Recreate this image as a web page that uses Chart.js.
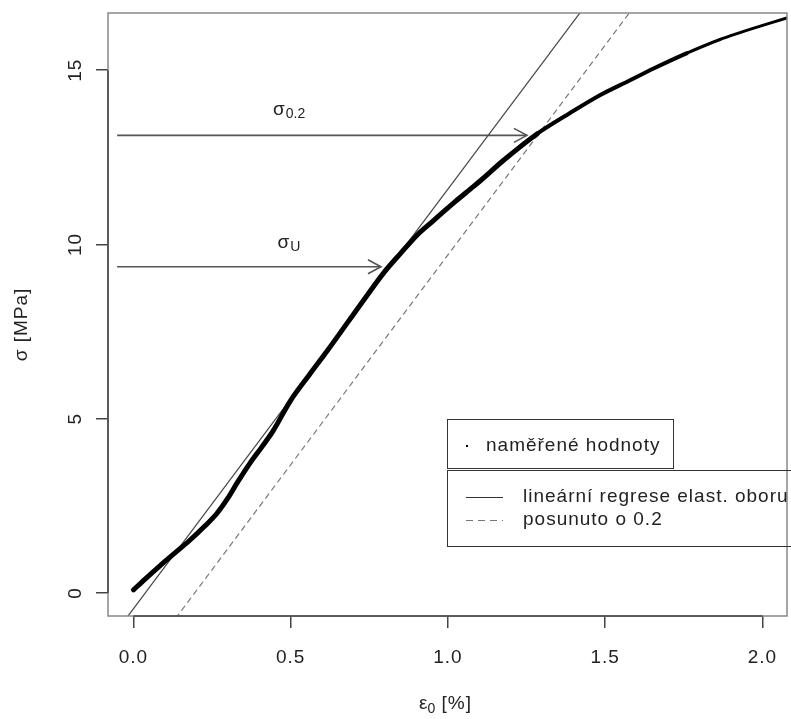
<!DOCTYPE html>
<html>
<head>
<meta charset="utf-8">
<script src="https://cdn.jsdelivr.net/npm/chart.js@4/dist/chart.umd.min.js"></script>
<style>
  html, body { margin: 0; padding: 0; background: #fff; }
  #wrap { width: 791px; height: 719px; }
</style>
</head>
<body>
<div id="wrap"><canvas id="plot"></canvas></div>
<script>
// measured points, strain [%] vs stress [MPa]
const strain = [0.0, 0.037, 0.084, 0.132, 0.18, 0.227, 0.265, 0.30, 0.329, 0.37, 0.409, 0.444, 0.498,
    0.56, 0.618, 0.73, 0.797, 0.85, 0.90, 0.943, 1.022, 1.07, 1.102, 1.175, 1.283, 1.388, 1.483, 1.579, 1.652,
    1.76, 1.865, 1.919, 1.97, 2.024, 2.078];
const stress = [0.09, 0.40, 0.78, 1.15, 1.52, 1.92, 2.28, 2.72, 3.15, 3.72, 4.20, 4.65, 5.50,
    6.27, 6.97, 8.38, 9.20, 9.75, 10.25, 10.60, 11.22, 11.58, 11.82, 12.40, 13.17, 13.77, 14.28, 14.71, 15.04,
    15.49, 15.88, 16.05, 16.20, 16.35, 16.50];

// linear regression of the elastic part and the shifted line
const regSlope = 12.04;
const regIntercept = -0.45;
const shift = 0.157;
const regX = [-0.2, 1.6];
const shiftX = [0.0, 1.8];

// arrows: start strain, tip strain, stress level
const arrowStart = -0.052;
const arrowTips = [1.251, 0.787];
const arrowLevels = [13.13, 9.36];
const arrowSubs = ["0.2", "U"];
const labelX = [0.444, 0.458];
const labelY = [13.85, 10.04];

const xTicks = [0.0, 0.5, 1.0, 1.5, 2.0];
const yTicks = [0, 5, 10, 15];

const legendTexts = ["naměřené hodnoty", "lineární regrese elast. oboru", "posunuto o 0.2"];

const FONT = '"Liberation Sans", Arial, sans-serif';

const measured = strain.map((x, i) => ({ x: x, y: stress[i] }));
const regLine = regX.map(x => ({ x: x, y: regSlope * x + regIntercept }));
const shiftLine = shiftX.map(x => ({ x: x, y: regSlope * (x - shift) + regIntercept }));
const arrowSets = arrowTips.map((tip, i) => ({
    data: [{ x: arrowStart, y: arrowLevels[i] }, { x: tip, y: arrowLevels[i] }],
    showLine: true, borderColor: "#555", borderWidth: 1.6, pointRadius: 0
}));

function spaced(ctx, txt, x, y) {
    ctx.letterSpacing = "1px";
    ctx.fillText(txt, x, y);
    ctx.letterSpacing = "0px";
}

const decor = {
    id: "decor",
    afterDatasetsDraw(chart) {
        const ctx = chart.ctx;
        const a = chart.chartArea;
        const xs = chart.scales.x, ys = chart.scales.y;
        ctx.save();

        // box
        ctx.strokeStyle = "#888";
        ctx.lineWidth = 1.5;
        ctx.strokeRect(a.left, a.top, a.right - a.left, a.bottom - a.top);

        // axis segments
        ctx.strokeStyle = "#444";
        ctx.beginPath();
        ctx.moveTo(xs.getPixelForValue(xTicks[0]), a.bottom);
        ctx.lineTo(xs.getPixelForValue(xTicks[xTicks.length - 1]), a.bottom);
        ctx.moveTo(a.left, ys.getPixelForValue(yTicks[0]));
        ctx.lineTo(a.left, ys.getPixelForValue(yTicks[yTicks.length - 1]));
        ctx.stroke();

        // tick labels
        ctx.fillStyle = "#222";
        ctx.font = "19px " + FONT;
        ctx.textAlign = "center";
        ctx.textBaseline = "middle";
        xTicks.forEach(v => spaced(ctx, v.toFixed(1), xs.getPixelForValue(v), 658));
        yTicks.forEach(v => {
            ctx.save();
            ctx.translate(76, ys.getPixelForValue(v));
            ctx.rotate(-Math.PI / 2);
            spaced(ctx, String(v), 0, 0);
            ctx.restore();
        });

        // axis titles
        ctx.textAlign = "left";
        ctx.font = "19px " + FONT;
        let w1 = ctx.measureText("ε").width;
        ctx.font = "14px " + FONT;
        let w2 = ctx.measureText("0").width;
        ctx.font = "19px " + FONT;
        ctx.letterSpacing = "1px";
        let w3 = ctx.measureText(" [%]").width;
        ctx.letterSpacing = "0px";
        let cx = (a.left + a.right) / 2 - 2 - (w1 + w2 + w3) / 2;
        ctx.fillText("ε", cx, 704);
        ctx.font = "14px " + FONT;
        ctx.fillText("0", cx + w1, 709);
        ctx.font = "19px " + FONT;
        spaced(ctx, " [%]", cx + w1 + w2, 704);

        ctx.save();
        ctx.translate(22, (a.top + a.bottom) / 2 + 10);
        ctx.rotate(-Math.PI / 2);
        ctx.textAlign = "center";
        spaced(ctx, "σ [MPa]", 0, 0);
        ctx.restore();

        // arrow heads and labels
        ctx.strokeStyle = "#555";
        ctx.lineWidth = 1.6;
        arrowTips.forEach((tip, i) => {
            const px = xs.getPixelForValue(tip), py = ys.getPixelForValue(arrowLevels[i]);
            ctx.beginPath();
            ctx.moveTo(px - 13, py - 7);
            ctx.lineTo(px, py);
            ctx.lineTo(px - 13, py + 7);
            ctx.stroke();

            const lx = xs.getPixelForValue(labelX[i]), ly = ys.getPixelForValue(labelY[i]);
            ctx.fillStyle = "#222";
            ctx.textAlign = "left";
            ctx.font = "19px " + FONT;
            ctx.fillText("σ", lx, ly);
            const sw = ctx.measureText("σ").width;
            ctx.font = "14px " + FONT;
            ctx.fillText(arrowSubs[i], lx + sw + 1, ly + 4);
        });

        // legends
        ctx.strokeStyle = "#333";
        ctx.lineWidth = 1;
        ctx.strokeRect(447.5, 419.5, 226, 49);
        ctx.strokeRect(447.5, 470.5, 360, 76);
        ctx.fillStyle = "#000";
        ctx.fillRect(466, 445, 2, 2);
        ctx.fillStyle = "#222";
        ctx.font = "19px " + FONT;
        ctx.textAlign = "left";
        spaced(ctx, legendTexts[0], 486, 446);
        spaced(ctx, legendTexts[1], 523, 497);
        spaced(ctx, legendTexts[2], 523, 520);
        ctx.strokeStyle = "#333";
        ctx.beginPath();
        ctx.moveTo(466, 497.5);
        ctx.lineTo(503, 497.5);
        ctx.stroke();
        ctx.strokeStyle = "#777";
        ctx.setLineDash([7, 5]);
        ctx.beginPath();
        ctx.moveTo(466, 520.5);
        ctx.lineTo(503, 520.5);
        ctx.stroke();
        ctx.setLineDash([]);

        ctx.restore();
    }
};

new Chart(document.getElementById("plot"), {
    type: "scatter",
    data: {
        datasets: [
            {
                data: measured, showLine: true, borderColor: "#000", pointRadius: 0,
                cubicInterpolationMode: "monotone", borderWidth: 5,
                borderCapStyle: "round", borderJoinStyle: "round",
                segment: { borderWidth: c => c.p0.parsed.x > 1.75 ? 3 : (c.p0.parsed.x > 1.25 ? 4 : 5) }
            },
            { data: regLine, showLine: true, borderColor: "#444", borderWidth: 1.2, pointRadius: 0 },
            { data: shiftLine, showLine: true, borderColor: "#777", borderWidth: 1.2, borderDash: [6, 4], pointRadius: 0 },
            ...arrowSets
        ]
    },
    options: {
        responsive: true,
        maintainAspectRatio: false,
        animation: false,
        layout: { padding: { top: 13, right: 4, left: 0, bottom: 0 } },
        plugins: { legend: { display: false }, tooltip: { enabled: false } },
        scales: {
            x: {
                type: "linear", min: -0.081, max: 2.078,
                border: { display: false },
                grid: { drawOnChartArea: false, tickLength: 12, color: "#444", lineWidth: 1.5 },
                ticks: { display: false, stepSize: 0.5, includeBounds: false },
                afterFit: s => { s.height = 103; }
            },
            y: {
                type: "linear", min: -0.66, max: 16.64,
                border: { display: false },
                grid: { drawOnChartArea: false, tickLength: 12, color: "#444", lineWidth: 1.5 },
                ticks: { display: false, stepSize: 5, includeBounds: false },
                afterFit: s => { s.width = 108; }
            }
        }
    },
    plugins: [decor]
});
</script>
</body>
</html>
